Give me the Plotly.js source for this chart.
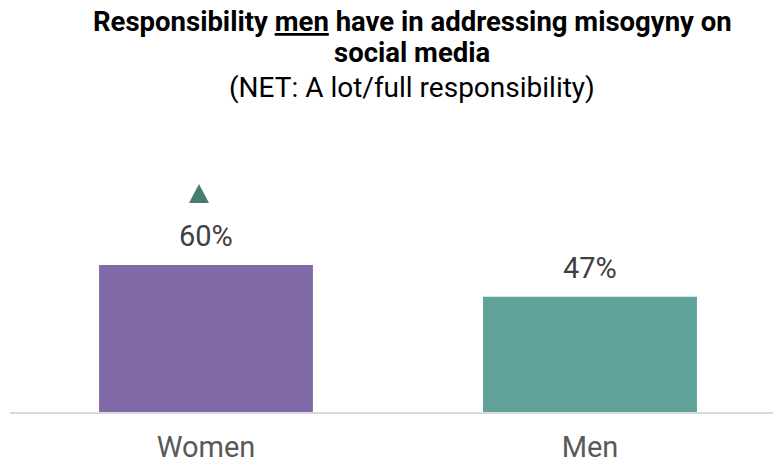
<!DOCTYPE html>
<html>
<head>
<meta charset="utf-8">
<script src="https://cdn.plot.ly/plotly-3.0.1.min.js"></script>
<style>html,body{margin:0;padding:0;background:#fff;}#chart{width:773px;height:463px;}</style>
</head>
<body>
<div id="chart"></div>
<script>
const categories = ["Women", "Men"];
const values = [60, 47];
const valueLabels = ["60%", "47%"];
const barColors = ["#806BA8", "#5EA29A"];
const significantFlags = [true, false];
const titleLines = [
  "<b>Responsibility <u>men</u> have in addressing misogyny on</b>",
  "<b>social media</b>",
  "(NET: A lot/full responsibility)"
];

const data = [
  {
    type: "bar",
    x: categories,
    y: values,
    marker: { color: barColors },
    width: 0.557,
    hoverinfo: "skip",
    showlegend: false
  }
];

const annotations = categories.map((c, i) => ({
  x: c, y: values[i], text: valueLabels[i], showarrow: false,
  xref: "x", yref: "y", yanchor: "bottom", yshift: 10,
  font: { family: "Roboto", size: 29, color: "#404040" }
}));

const titleY = [1.339, 1.2295, 1.1096];
const titleSizes = [27.5, 27.5, 28];
titleLines.forEach((t, i) => {
  annotations.push({
    x: 0.527, xref: "paper", xanchor: "center",
    y: titleY[i], yref: "paper", yanchor: "middle",
    text: t, showarrow: false,
    font: { family: "Roboto", size: titleSizes[i], color: "#000" }
  });
});

// significance markers (pixel-sized triangles anchored above the flagged bars)
const shapes = [];
categories.forEach((c, i) => {
  if (!significantFlags[i]) return;
  shapes.push({
    type: "path", xref: "x", yref: "y",
    xsizemode: "pixel", ysizemode: "pixel",
    xanchor: i, yanchor: values[i],
    path: "M -17 62 L 3 62 L -7 81 Z",
    fillcolor: "#467C74", line: { width: 0 }
  });
});

const layout = {
  width: 773, height: 463,
  margin: { l: 10, r: 0, t: 120, b: 51 },
  paper_bgcolor: "#fff", plot_bgcolor: "#fff",
  xaxis: {
    type: "category",
    range: [-0.5104, 1.4766],
    showline: true, linecolor: "#D9D9D9", linewidth: 2,
    showgrid: false, zeroline: false,
    ticks: "outside", ticklen: 8, tickcolor: "rgba(0,0,0,0)",
    tickfont: { family: "Roboto", size: 29, color: "#595959" },
    fixedrange: true
  },
  yaxis: {
    range: [0, 119.2],
    visible: false, showgrid: false, zeroline: false, fixedrange: true
  },
  shapes: shapes,
  annotations: annotations
};

Plotly.newPlot("chart", data, layout, { displayModeBar: false, staticPlot: true });
</script>
</body>
</html>
